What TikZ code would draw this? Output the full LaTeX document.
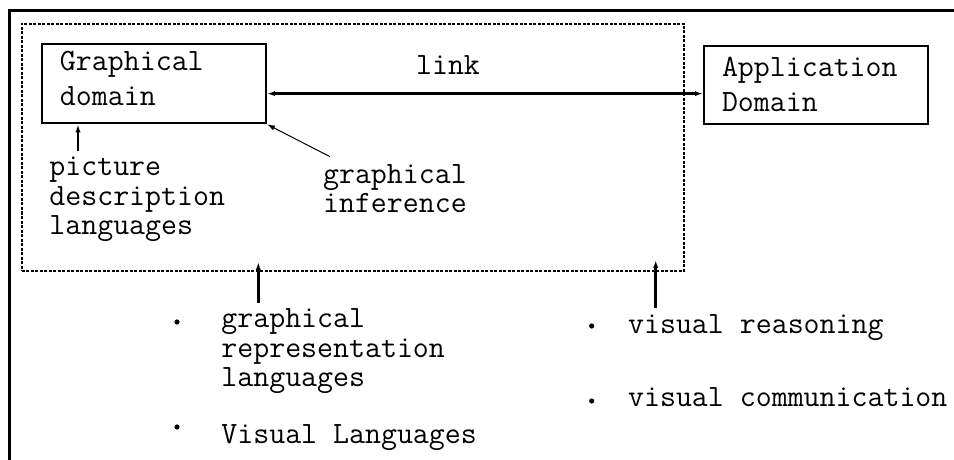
\documentclass[tikz,border=0pt]{standalone}
\usepackage{tikz}
\usetikzlibrary{arrows.meta,positioning}
\newcommand{\diagfont}{\fontsize{15.5pt}{14.75pt}\selectfont\ttfamily}
\newcommand{\boxfont}{\fontsize{15.5pt}{17.5pt}\selectfont\ttfamily}

\begin{document}
\begin{tikzpicture}[x=0.5pt,y=0.5pt,
    domainbox/.style={draw, line width=1pt, align=left, anchor=north west,
        inner xsep=9pt, text width=94pt, font=\boxfont},
    lbl/.style={align=left, anchor=base west, inner sep=3pt, font=\diagfont},
    arr/.style={-{Latex[length=4pt,width=2.6pt]}},
    ]

    \useasboundingbox (0,0) rectangle (954,460);

    % =========================
    % frame and dashed zone
    % =========================
    \draw[line width=1.5pt] (9.5,0) -- (9.5,449) -- (954,449);
    \node[draw, line width=1pt, dash pattern=on 1.5pt off 0.75pt, inner sep=0pt,
        minimum width=331.25pt, minimum height=123.5pt] (zone) at (352.75,312.5) {};

    % =========================
    % the two domains
    % =========================
    % (text depth holds the second line, so it sets the lower margin)
    \node[domainbox, inner ysep=3.5pt, text depth=23pt] (gdom) at (41,417) {Graphical\\domain};
    \node[domainbox, inner ysep=5.5pt, text depth=18.5pt] (adom) at (703,415) {Application\\Domain};

    % link between them
    \draw[line width=1.4pt, {Latex[length=4pt,width=2.6pt]}-{Latex[length=4pt,width=2.6pt]}]
        ([yshift=-5pt]gdom.east) -- ([yshift=-5pt]gdom.east -| adom.west);
    \node[lbl, anchor=base] (link) at (448,385) {link};

    % labels inside the zone (base = last line)
    \node[lbl] (pdl) at (43,225) {picture\\description\\languages};
    \coordinate (pdx) at (78,0);
    \draw[arr, line width=1pt] (pdl.north -| pdx) -- (gdom.south -| pdx);

    \node[lbl] (ginf) at (316.7,247) {graphical\\inference};
    \coordinate (ginfrom) at (330,303.3);
    \draw[arr, line width=0.5pt] (ginfrom) -- (gdom.south east);

    % =========================
    % bullets below the zone
    % =========================
    \node[lbl] (grl) at (215,73) {graphical\\representation\\languages};
    \node[lbl] (vl) at (215,16.7) {Visual Languages};
    \node[lbl] (vr) at (621.7,126.7) {visual reasoning};
    \node[lbl] (vc) at (621.7,53.3) {visual communication};
    \foreach \p in {(177,138),(177,33),(591.7,134),(591.7,59)}
        \fill \p circle (1.3pt);

    \coordinate (ax) at (258.3,0);
    \coordinate (bx) at (655.7,0);
    \draw[arr, line width=1.5pt] (grl.north -| ax) -- ([yshift=5pt]zone.south -| ax);
    \draw[arr, line width=1.5pt] (vr.north -| bx) -- ([yshift=6pt]zone.south -| bx);

\end{tikzpicture}
\end{document}
